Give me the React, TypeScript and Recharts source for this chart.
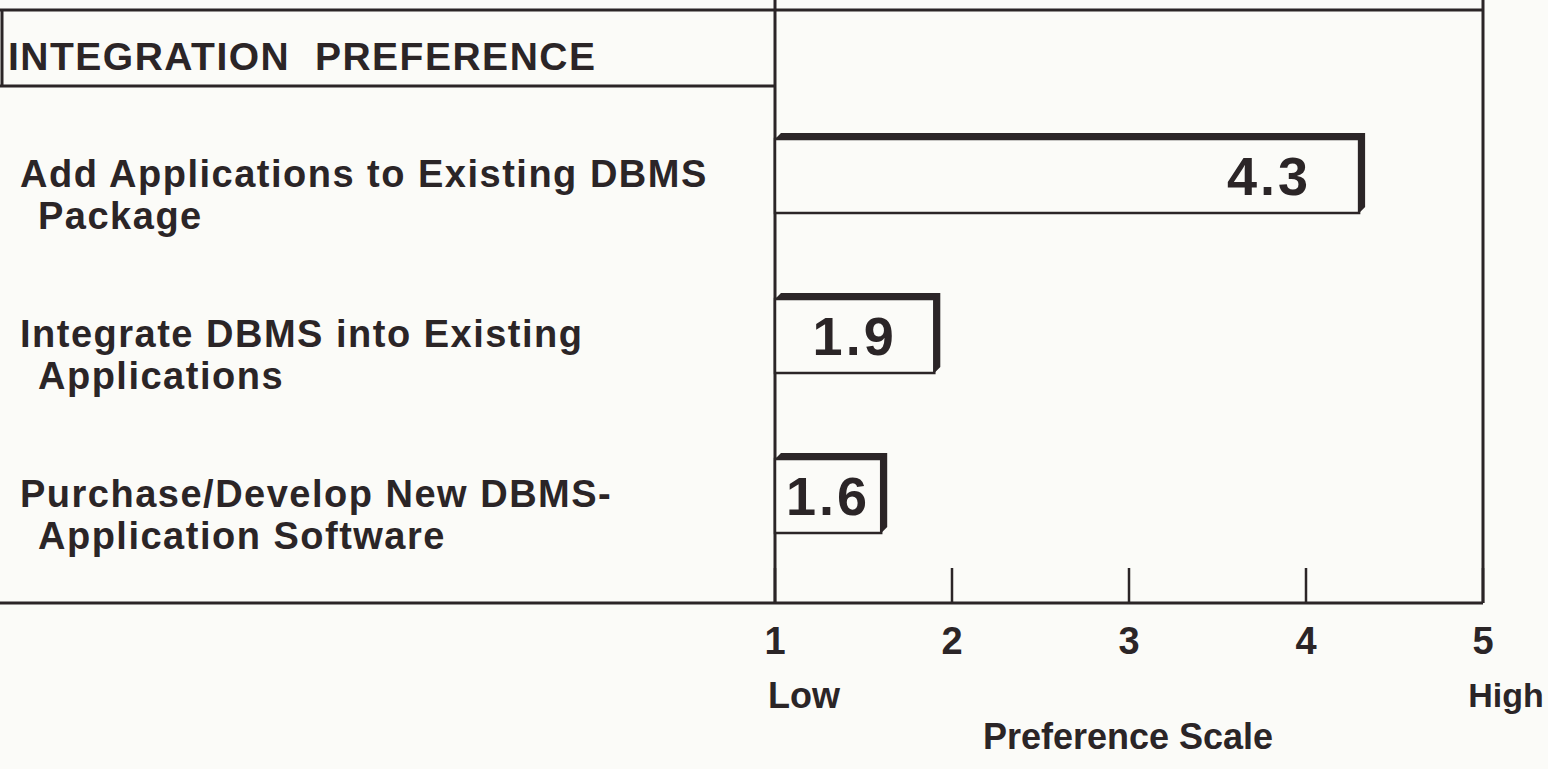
import { Bar, BarChart, Customized, LabelList, XAxis, YAxis } from "recharts";

// category labels, two lines each
const CATEGORY_LINES = [
  ["Add Applications to Existing DBMS", "Package"],
  ["Integrate DBMS into Existing", "Applications"],
  ["Purchase/Develop New DBMS-", "Application Software"],
];
const SCORES = [4.3, 1.9, 1.6];
const SCALE_TICKS = [1, 2, 3, 4, 5];
const TITLE = "INTEGRATION  PREFERENCE";

const data = CATEGORY_LINES.map((lines, i) => ({
  name: lines.join(" "),
  score: SCORES[i],
}));

const W = 1548;
const H = 769;
const PLOT_LEFT = 775;
const PLOT_RIGHT = 1483;
const HEADER_BOTTOM = 86;
const AXIS_Y = 603;
const DEPTH = 6;

const INK = "#2b2527";
const PAPER = "#fbfbf8";
const FONT = "'Liberation Sans', Arial, Helvetica, sans-serif";

function ShadowBar(props: any) {
  const { x, y, width, height } = props;
  const fy = y + DEPTH;
  const pts = [
    [x, fy],
    [x + DEPTH, y],
    [x + width + DEPTH, y],
    [x + width + DEPTH, y + height - DEPTH],
    [x + width, y + height],
    [x + width, fy],
  ]
    .map((p) => p.join(","))
    .join(" ");
  return (
    <g>
      <polygon points={pts} fill={INK} />
      <rect x={x} y={fy} width={width} height={height - DEPTH} fill={PAPER} stroke={INK} strokeWidth={2.5} />
    </g>
  );
}

function ValueTag(props: any) {
  const x = Number(props.x);
  const y = Number(props.y);
  const width = Number(props.width);
  const height = Number(props.height);
  const cx = Math.max(x + width / 2, x + width - 90);
  const cy = y + DEPTH + (height - DEPTH) / 2;
  return (
    <text
      x={cx}
      y={cy}
      textAnchor="middle"
      dominantBaseline="central"
      fontFamily={FONT}
      fontWeight="bold"
      fontSize={54}
      letterSpacing={3}
      fill={INK}
    >
      {Number(props.value).toFixed(1)}
    </text>
  );
}

function CategoryTick(props: any) {
  const { y, index } = props;
  const [first, second] = CATEGORY_LINES[index] ?? ["", ""];
  return (
    <g fontFamily={FONT} fontWeight="bold" fontSize={38} fill={INK} letterSpacing={1.5}>
      <text x={20} y={y + 1} dominantBaseline="central">
        {first}
      </text>
      <text x={38} y={y + 43} dominantBaseline="central">
        {second}
      </text>
    </g>
  );
}

function ScaleTick(props: any) {
  const { x, payload } = props;
  return (
    <g>
      <line x1={x} x2={x} y1={AXIS_Y - 35} y2={AXIS_Y} stroke={INK} strokeWidth={2.5} />
      <text
        x={x}
        y={AXIS_Y + 38}
        textAnchor="middle"
        dominantBaseline="central"
        fontFamily={FONT}
        fontWeight="bold"
        fontSize={38}
        fill={INK}
      >
        {payload.value}
      </text>
    </g>
  );
}

function Frame() {
  const text = { fontFamily: FONT, fontWeight: "bold" as const, fill: INK };
  return (
    <g>
      <g stroke={INK} strokeWidth={3} fill="none">
        <line x1={0} x2={PLOT_RIGHT} y1={10} y2={10} />
        <line x1={0} x2={PLOT_LEFT} y1={HEADER_BOTTOM} y2={HEADER_BOTTOM} />
        <line x1={2} x2={2} y1={10} y2={HEADER_BOTTOM} />
        <line x1={PLOT_LEFT} x2={PLOT_LEFT} y1={0} y2={AXIS_Y} />
        <line x1={PLOT_RIGHT} x2={PLOT_RIGHT} y1={0} y2={AXIS_Y} />
        <line x1={0} x2={PLOT_RIGHT} y1={AXIS_Y} y2={AXIS_Y} />
      </g>
      <text
        x={8}
        y={56}
        dominantBaseline="central"
        fontSize={39}
        letterSpacing={1.5}
        style={{ whiteSpace: "pre" }}
        {...text}
      >
        {TITLE}
      </text>
      <text x={768} y={695} dominantBaseline="central" fontSize={36} {...text}>
        Low
      </text>
      <text x={1506} y={695} textAnchor="middle" dominantBaseline="central" fontSize={34} {...text}>
        High
      </text>
      <text x={1128} y={736} textAnchor="middle" dominantBaseline="central" fontSize={36} {...text}>
        Preference Scale
      </text>
    </g>
  );
}

export default function App() {
  return (
    <div style={{ position: "absolute", left: 0, top: 0, width: W, height: H, background: PAPER }}>
      <BarChart
        width={W}
        height={H}
        data={data}
        layout="vertical"
        margin={{ top: HEADER_BOTTOM, right: W - PLOT_RIGHT, bottom: 0, left: 0 }}
      >
        <Customized component={<Frame />} />
        <XAxis
          type="number"
          domain={[1, 5]}
          ticks={SCALE_TICKS}
          interval={0}
          height={H - AXIS_Y}
          axisLine={false}
          tickLine={false}
          tickSize={0}
          tick={<ScaleTick />}
        />
        <YAxis
          type="category"
          dataKey="name"
          width={PLOT_LEFT}
          axisLine={false}
          tickLine={false}
          padding={{ top: 7, bottom: 30 }}
          tick={<CategoryTick />}
          interval={0}
        />
        <Bar dataKey="score" barSize={80} shape={<ShadowBar />} isAnimationActive={false}>
          <LabelList dataKey="score" content={<ValueTag />} />
        </Bar>
      </BarChart>
    </div>
  );
}
